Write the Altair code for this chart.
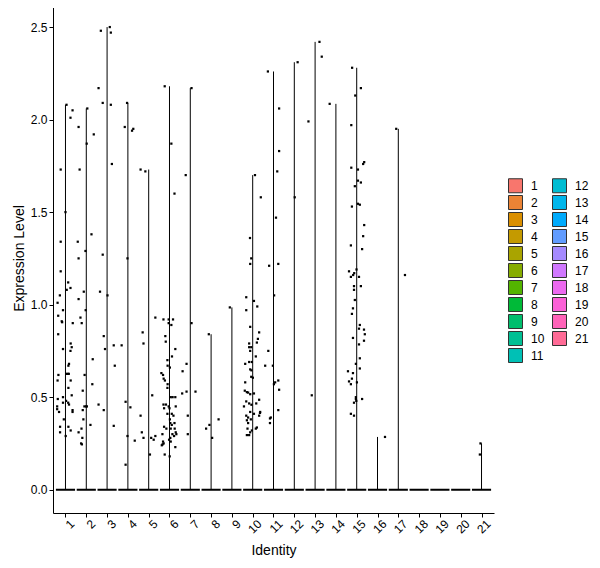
import math
import altair as alt
import pandas as pd

# ---------------- data ----------------
clusters = list(range(1, 22))

# expression values (non-zero cells) and horizontal jitter (in cluster units)
expr_c1 = [2.08, 2.05, 2.01, 1.73, 1.50, 1.34, 1.18, 1.12, 1.08, 1.09, 1.05, 1.01, 0.97, 0.94, 0.91, 0.905,
           0.90, 0.84, 0.76, 0.79, 0.77, 0.75, 0.68, 0.67, 0.626, 0.626, 0.626, 0.62, 0.59, 0.59, 0.55, 0.51,
           0.49, 0.50, 0.47, 0.48, 0.47, 0.46, 0.45, 0.435, 0.42, 0.43, 0.42, 0.38, 0.34, 0.31, 0.34, 0.32, 0.29]
jit_c1 = [0.05, 0.34, 0.24, -0.23, 0.0, -0.23, -0.23, 0.13, 0.06, 0.24, -0.27, -0.38, -0.12, -0.35, -0.18, -0.16,
          0.35, -0.35, -0.12, 0.25, 0.30, 0.24, 0.17, 0.14, 0.03, 0.11, 0.16, -0.34, -0.38, 0.25, 0.14, 0.30,
          -0.37, -0.12, -0.12, 0.03, 0.13, 0.17, -0.40, -0.40, -0.31, 0.34, 0.34, -0.08, -0.26, -0.26, 0.14, 0.25, 0.01]

expr_c2 = [2.06, 1.96, 1.87, 1.92, 1.73, 1.34, 1.25, 1.29, 1.38, 1.07, 1.03, 0.93, 0.97, 0.90, 0.62, 0.705,
           0.57, 0.535, 0.45, 0.45, 0.45, 0.43, 0.38, 0.35, 0.31, 0.28, 0.25, 0.245, 0.33]
jit_c2 = [0.05, -0.37, 0.02, 0.36, -0.32, -0.41, -0.37, -0.04, 0.25, -0.12, -0.37, -0.28, -0.03, -0.22, -0.08, 0.31,
          0.29, -0.17, -0.09, -0.01, 0.03, -0.17, -0.14, 0.20, -0.37, -0.19, -0.25, -0.21, -0.23]

expr_c3 = [2.50, 2.48, 2.47, 2.17, 2.09, 2.08, 1.76, 1.27, 1.07, 1.05, 0.83, 0.76, 0.46, 0.43, 0.345, 0.78, 0.67]
jit_c3 = [0.13, -0.30, 0.18, -0.41, -0.21, 0.18, 0.23, -0.21, -0.34, 0.02, -0.16, -0.10, -0.41, -0.16, 0.32, 0.32, 0.37]

expr_c4 = [2.09, 1.96, 1.94, 1.95, 1.25, 0.78, 0.475, 0.445, 0.29, 0.265, 0.135]
jit_c4 = [-0.04, -0.15, 0.20, 0.26, -0.02, -0.30, -0.11, 0.12, -0.02, 0.33, -0.11]

expr_c5 = [1.73, 1.72, 0.85, 0.79, 0.40, 0.31, 0.28, 0.19, 0.51, 0.28, 0.27, 0.29, 0.93]
jit_c5 = [-0.39, -0.16, -0.29, -0.25, -0.39, -0.33, -0.25, 0.06, 0.17, 0.12, 0.24, 0.32, 0.32]

expr_c6 = [2.18, 1.87, 1.60, 0.92, 0.92, 0.92, 0.90, 0.89, 0.83, 0.80, 0.76, 0.72, 0.70, 0.67, 0.66, 0.63,
           0.62, 0.60, 0.59, 0.57, 0.55, 0.50, 0.50, 0.50, 0.46, 0.46, 0.44, 0.45, 0.44, 0.45, 0.41, 0.40,
           0.41, 0.38, 0.36, 0.35, 0.36, 0.33, 0.33, 0.33, 0.34, 0.31, 0.30, 0.29, 0.30, 0.28, 0.27, 0.26,
           0.26, 0.24, 0.245, 0.25, 0.19, 0.18, 0.23, 0.30]
jit_c6 = [-0.23, 0.09, 0.24, -0.29, -0.04, 0.17, -0.04, 0.09, -0.20, -0.18, 0.28, 0.12, -0.10, -0.09, 0.02, -0.39,
          -0.31, -0.28, -0.22, -0.09, -0.10, 0.15, 0.28, 0.06, -0.29, -0.17, -0.26, -0.04, 0.0, 0.30, 0.11, 0.19,
          -0.10, 0.02, 0.04, 0.11, 0.24, 0.06, 0.25, -0.15, -0.26, 0.30, 0.33, 0.22, 0.14, 0.04, -0.02, 0.06,
          -0.31, -0.37, -0.33, -0.28, -0.23, 0.01, 0.28, -0.34]

expr_c7 = [2.17, 1.70, 0.90, 0.68, 0.52, 0.53, 0.53, 0.40, 0.30, 0.64]
jit_c7 = [0.06, -0.22, 0.06, -0.18, -0.39, -0.18, 0.25, -0.12, -0.12, -0.37]

expr_c8 = [0.84, 0.33, 0.35, 0.28, 0.38]
jit_c8 = [-0.11, -0.24, -0.08, 0.05, 0.36]

expr_c9 = [0.985]
jit_c9 = [-0.10]

expr_c10 = [1.70, 1.58, 1.36, 1.25, 1.22, 1.04, 1.02, 0.97, 0.99, 0.88, 0.85, 0.815, 0.795, 0.79, 0.77, 0.77,
            0.75, 0.72, 0.69, 0.69, 0.68, 0.65, 0.645, 0.61, 0.605, 0.58, 0.535, 0.527, 0.525, 0.516, 0.52,
            0.477, 0.466, 0.459, 0.466, 0.486, 0.45, 0.42, 0.41, 0.40, 0.42, 0.415, 0.40, 0.39, 0.375, 0.36,
            0.38, 0.32, 0.336, 0.33, 0.33, 0.31, 0.295, 0.295]
jit_c10 = [0.11, 0.39, -0.13, -0.07, -0.12, -0.31, 0.06, -0.31, 0.22, -0.12, 0.31, 0.25, 0.20, -0.17, -0.17, -0.07,
           -0.12, 0.15, -0.04, -0.17, -0.36, -0.12, -0.06, -0.07, 0.01, -0.36, -0.38, -0.28, -0.22, -0.12, 0.06,
           -0.31, -0.17, -0.06, 0.17, 0.31, -0.42, -0.12, 0.06, 0.31, 0.36, 0.35, -0.31, -0.22, -0.28, -0.22,
           -0.09, -0.04, 0.20, 0.15, -0.25, -0.12, -0.28, -0.17]

expr_c11 = [2.26, 2.06, 1.83, 1.72, 1.47, 1.21, 1.22, 1.05, 0.75, 0.67, 0.67, 0.59, 0.58, 0.57, 0.54, 0.43,
            0.39, 0.385, 0.36]
jit_c11 = [-0.27, 0.27, 0.27, 0.18, 0.12, -0.21, 0.23, 0.03, -0.25, -0.40, -0.03, 0.23, 0.08, 0.02, 0.27, 0.23,
           -0.13, -0.17, -0.17]

expr_c12 = [2.31, 1.58]
jit_c12 = [0.16, 0.02]

expr_c13 = [2.42, 2.34, 1.99, 0.51]
jit_c13 = [0.21, 0.32, -0.32, -0.16]

expr_c14 = [2.085]
jit_c14 = [-0.30]

expr_c15 = [2.28, 2.17, 2.13, 1.97, 1.74, 1.73, 1.76, 1.77, 1.67, 1.66, 1.64, 1.53, 1.545, 1.54, 1.43, 1.37,
            1.32, 1.30, 1.18, 1.15, 1.16, 1.17, 1.15, 1.19, 1.10, 1.10, 1.08, 1.025, 0.98, 0.95, 0.89, 0.87,
            0.865, 0.84, 0.805, 0.82, 0.785, 0.71, 0.68, 0.655, 0.64, 0.63, 0.60, 0.585, 0.57, 0.58, 0.50,
            0.49, 0.49, 0.47, 0.41, 0.40, 0.48]
jit_c15 = [-0.22, 0.20, -0.07, -0.26, -0.26, 0.06, 0.31, 0.36, 0.06, 0.20, -0.09, -0.23, 0.06, 0.15, 0.36, 0.31,
           -0.28, 0.26, -0.37, -0.28, -0.17, -0.12, 0.11, -0.01, -0.13, 0.20, -0.13, -0.09, -0.18, -0.23, 0.15, 0.11,
           0.35, 0.39, 0.35, -0.18, 0.11, 0.15, -0.04, 0.15, -0.42, -0.18, -0.23, -0.37, -0.28, 0.01, -0.04,
           -0.04, 0.26, -0.13, -0.28, -0.13, -0.02]

expr_c16 = [0.285]
jit_c16 = [0.36]

expr_c17 = [1.95, 1.16]
jit_c17 = [-0.10, 0.32]

expr_c21 = [0.25, 0.19]
jit_c21 = [-0.05, -0.08]

y_ticks = [0.0, 0.5, 1.0, 1.5, 2.0, 2.5]

# ---------------- tables ----------------
series = {
    1: (expr_c1, jit_c1), 2: (expr_c2, jit_c2), 3: (expr_c3, jit_c3), 4: (expr_c4, jit_c4),
    5: (expr_c5, jit_c5), 6: (expr_c6, jit_c6), 7: (expr_c7, jit_c7), 8: (expr_c8, jit_c8),
    9: (expr_c9, jit_c9), 10: (expr_c10, jit_c10), 11: (expr_c11, jit_c11), 12: (expr_c12, jit_c12),
    13: (expr_c13, jit_c13), 14: (expr_c14, jit_c14), 15: (expr_c15, jit_c15), 16: (expr_c16, jit_c16),
    17: (expr_c17, jit_c17), 21: (expr_c21, jit_c21),
}
rows = []
for c, (vals, jits) in series.items():
    for v, j in zip(vals, jits):
        rows.append({"cluster": c, "ident": str(c), "value": v, "xpos": c + j})
points = pd.DataFrame(rows)

base = pd.DataFrame({"cluster": clusters, "ident": [str(c) for c in clusters]})


# ggplot2 default hue palette (hcl, l=65, c=100)
def hcl_hex(h, c=100.0, l=65.0):
    U = c * math.cos(math.radians(h))
    V = c * math.sin(math.radians(h))
    Y = 100.0 * ((l + 16.0) / 116.0) ** 3
    u = U / (13.0 * l) + 0.1978398
    v = V / (13.0 * l) + 0.4683363
    X = 9.0 * Y * u / (4.0 * v)
    Z = -X / 3.0 - 5.0 * Y + 3.0 * Y / v

    def g(t):
        t = t / 100.0
        t = 1.055 * t ** (1 / 2.4) - 0.055 if t > 0.00304 else 12.92 * t
        return max(0, min(255, round(255 * t)))

    r = g(3.240479 * X - 1.537150 * Y - 0.498535 * Z)
    gg = g(-0.969256 * X + 1.875992 * Y + 0.041556 * Z)
    b = g(0.055648 * X - 0.204043 * Y + 1.057311 * Z)
    return "#%02X%02X%02X" % (r, gg, b)


n = len(clusters)
legend_order = [str(c) for c in clusters]
legend_colors = [hcl_hex(15 + 360.0 * i / n) for i in range(n)]

FONT = "Liberation Sans"

x_scale = alt.Scale(domain=[0.4, 21.6], nice=False, zero=False)
y_scale = alt.Scale(domain=[-0.126, 2.63], nice=False, zero=False)

x_axis = alt.Axis(values=clusters, title="Identity", labelAngle=315, labelAlign="right",
                  labelBaseline="top", labelPadding=1, labelOffset=3, tickSize=4, titlePadding=8,
                  labelOverlap=False, labelBound=False, labelFontSize=12, titleFontSize=14, grid=False,
                  domainColor="black", tickColor="black", labelColor="black", titleColor="black",
                  titleFontWeight="normal")
y_axis = alt.Axis(values=y_ticks, format=".1f", title="Expression Level", tickSize=4, labelPadding=2,
                  titlePadding=4, labelFontSize=12, titleFontSize=14, grid=False, domainColor="black",
                  tickColor="black", labelColor="black", titleColor="black", titleFontWeight="normal")

base_rect = alt.Chart(base).transform_calculate(
    x1="datum.cluster - 0.46", x2="datum.cluster + 0.46", zero="0"
).mark_rect(stroke="black", strokeWidth=2).encode(
    x=alt.X("x1:Q", scale=x_scale, axis=x_axis),
    x2="x2:Q",
    y=alt.Y("zero:Q", scale=y_scale, axis=y_axis),
    y2="zero:Q",
    fill=alt.Fill("ident:N", scale=alt.Scale(domain=legend_order, range=legend_colors),
                  legend=alt.Legend(title=None, orient="none", legendX=455, legendY=175, columns=2,
                                    symbolType="square", symbolSize=196, symbolStrokeColor="#333333",
                                    symbolStrokeWidth=1, labelFontSize=12, labelColor="black",
                                    labelOffset=8, columnPadding=5, rowPadding=-3.4, padding=0,
                                    symbolOpacity=1)),
)

rules = alt.Chart(points).transform_aggregate(
    ymax="max(value)", groupby=["cluster"]
).transform_calculate(zero="0").mark_rule(color="black", strokeWidth=1).encode(
    x=alt.X("cluster:Q", scale=x_scale, axis=x_axis),
    y=alt.Y("zero:Q", scale=y_scale, axis=y_axis),
    y2="ymax:Q",
)

dots = alt.Chart(points).mark_square(size=5, color="black", opacity=1).encode(
    x=alt.X("xpos:Q", scale=x_scale, axis=x_axis),
    y=alt.Y("value:Q", scale=y_scale, axis=y_axis),
)

chart = alt.layer(base_rect, rules, dots).properties(
    width=441, height=510,
    autosize=alt.AutoSizeParams(type="none"),
    padding={"left": 45, "top": -5, "right": 98, "bottom": 47},
).configure(font=FONT, view=alt.ViewConfig(stroke=None)).configure_axis(labelOverlap=False)

chart.save("out.html", embed_options={"renderer": "svg", "actions": False})
